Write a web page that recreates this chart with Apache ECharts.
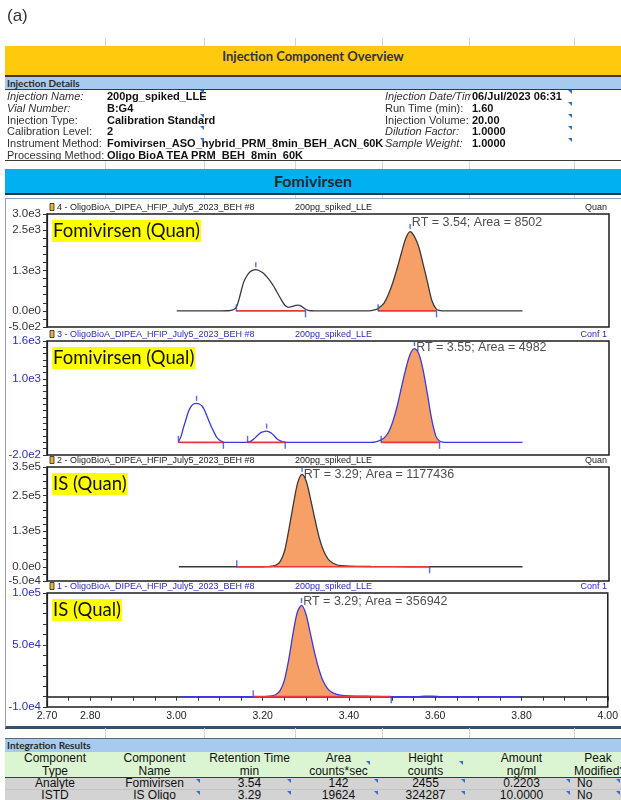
<!DOCTYPE html>
<html>
<head>
<meta charset="utf-8">
<script src="https://cdn.jsdelivr.net/npm/echarts@6/dist/echarts.min.js"></script>
<style>
  html, body { margin: 0; padding: 0; background: #fff; }
  body { width: 621px; height: 800px; overflow: hidden; position: relative; font-family: "Liberation Sans", Arial, sans-serif; }
  #chart { position: absolute; left: 0; top: 0; width: 621px; height: 800px; z-index: 2; }
  .abs { position: absolute; white-space: nowrap; }
  .top { z-index: 5; }
  .cal { font-family: Lato, "Open Sans", sans-serif; font-weight: bold; }
  .row { position: absolute; left: 5px; width: 616px; height: 11.75px; overflow: hidden; font-size: 11px; line-height: 12px; color: #333; }
  .row span { position: absolute; top: 0; white-space: nowrap; }
  .it { font-style: italic; }
  .b { font-weight: bold; color: #111; }
  .tri { position: absolute; width: 0; height: 0; border-top: 4px solid #2f6fd8; border-left: 4px solid transparent; z-index: 6; }
  .vline { position: absolute; width: 1px; background: #d4d4d4; z-index: 1; }
  .cell { position: absolute; overflow: hidden; text-align: center; font-size: 12px; color: #111; white-space: nowrap; }
</style>
</head>
<body>
<div class="abs top" style="left:7px;top:6px;font-size:17px;color:#333;">(a)</div>

<!-- report header -->
<div class="abs top" style="left:5px;top:46px;width:616px;height:29px;background:#FFC90E;border-bottom:2px solid #3a3a3a;"></div>
<div class="abs top cal" style="left:5px;top:48px;width:616px;text-align:center;font-size:13px;color:#333;">Injection Component Overview</div>
<div class="abs top" style="left:5px;top:77px;width:616px;height:12px;background:#A7CAEE;border-bottom:1.5px solid #3a3a3a;"></div>
<div class="abs top cal" style="left:7px;top:77px;font-size:10px;line-height:12px;color:#2a2a2a;">Injection Details</div>

<div class="row top" style="top:90px;"><span class="it" style="left:2px">Injection Name:</span><span class="b" style="left:102px">200pg_spiked_LLE</span><span class="it" style="left:380px;width:86px;overflow:hidden">Injection Date/Time:</span><span class="b" style="left:467px">06/Jul/2023 06:31</span></div>
<div class="row top" style="top:101.75px;"><span class="it" style="left:2px">Vial Number:</span><span class="b" style="left:102px">B:G4</span><span style="left:380px">Run Time (min):</span><span class="b" style="left:467px">1.60</span></div>
<div class="row top" style="top:113.5px;"><span style="left:2px">Injection Type:</span><span class="b" style="left:102px">Calibration Standard</span><span style="left:380px">Injection Volume:</span><span class="b" style="left:467px">20.00</span></div>
<div class="row top" style="top:125.25px;"><span style="left:2px">Calibration Level:</span><span class="b" style="left:102px">2</span><span class="it" style="left:380px">Dilution Factor:</span><span class="b" style="left:467px">1.0000</span></div>
<div class="row top" style="top:137px;"><span style="left:2px">Instrument Method:</span><span class="b" style="left:102px">Fomivirsen_ASO_hybrid_PRM_8min_BEH_ACN_60K</span><span class="it" style="left:380px">Sample Weight:</span><span class="b" style="left:467px">1.0000</span></div>
<div class="row top" style="top:148.75px;"><span style="left:2px">Processing Method:</span><span class="b" style="left:102px">Oligo BioA TEA PRM_BEH_8min_60K</span></div>
<div class="abs top" style="left:5px;top:160px;width:616px;height:0;border-bottom:1.5px solid #3a3a3a;"></div>

<div class="abs top" style="left:5px;top:169px;width:616px;height:24px;background:#00B0F0;border-bottom:2px solid #2a3440;"></div>
<div class="abs top cal" style="left:5px;top:171px;width:616px;text-align:center;font-size:16px;color:#1e2a36;">Fomivirsen</div>

<!-- chromatogram frame -->
<div class="abs" style="left:5px;top:198px;width:620px;height:527px;border:1px solid #8ea3bf;border-right:none;border-bottom:3px solid #34506f;z-index:1;background:#fff;"></div>

<!-- integration results -->
<div class="abs top" style="left:5px;top:738px;width:616px;height:13px;background:#A7CAEE;border-top:1px solid #5a6a7a;"></div>
<div class="abs top cal" style="left:7px;top:739px;font-size:10px;line-height:12px;color:#2a2a2a;">Integration Results</div>
<div class="abs top" style="left:5px;top:752px;width:616px;height:24.5px;background:#DBF5D3;border-bottom:1.5px solid #3a3a3a;"></div>
<div class="abs top" style="left:5px;top:778px;width:616px;height:22px;background:#D3D3D3;"></div>
<div class="abs top" style="left:5px;top:789px;width:616px;height:0;border-top:1px solid #c2c2c2;"></div>
<div id="results"></div>

<div id="chart"></div>

<script>
// ---------- axis ----------
const xTickLabels = ['2.70', '2.80', '3.00', '3.20', '3.40', '3.60', '3.80', '4.00'];

// ---------- chromatogram traces: [retention time (min), intensity] ----------
const fomiQuanTrace = [
  [3.00, 0], [3.05, 0], [3.10, 0], [3.12, 4], [3.13, 30], [3.138, 110], [3.145, 400], [3.154, 850],
  [3.162, 1080], [3.170, 1210], [3.177, 1262], [3.183, 1275], [3.190, 1250], [3.200, 1170], [3.208, 1060],
  [3.216, 930], [3.224, 770], [3.231, 600], [3.240, 390], [3.247, 235], [3.253, 140], [3.258, 110],
  [3.264, 122], [3.270, 150], [3.276, 172], [3.281, 178], [3.287, 155], [3.293, 100], [3.298, 50],
  [3.304, 18], [3.31, 4], [3.32, 0], [3.40, 0], [3.44, 0], [3.45, 10], [3.46, 40], [3.466, 75],
  [3.48, 250], [3.49, 520], [3.50, 880], [3.51, 1320], [3.52, 1800], [3.53, 2250], [3.54, 2455],
  [3.55, 2300], [3.56, 1980], [3.57, 1450], [3.58, 900], [3.59, 330], [3.601, 45], [3.61, 8],
  [3.62, 0], [3.70, 0], [3.80, 0]
];
const fomiQualTrace = [
  [3.004, 10], [3.010, 90], [3.015, 218], [3.021, 350], [3.027, 483], [3.033, 565], [3.039, 605],
  [3.046, 616], [3.052, 605], [3.058, 578], [3.064, 515], [3.069, 430], [3.075, 330], [3.081, 234],
  [3.087, 150], [3.092, 85], [3.098, 40], [3.104, 14], [3.108, 5], [3.115, 0], [3.16, 0], [3.164, 2],
  [3.172, 20], [3.179, 55], [3.185, 95], [3.191, 135], [3.197, 160], [3.203, 174], [3.208, 178],
  [3.214, 166], [3.220, 140], [3.226, 100], [3.231, 62], [3.237, 32], [3.243, 14], [3.251, 3],
  [3.26, 0], [3.40, 0], [3.45, 0], [3.46, 8], [3.473, 40], [3.48, 70], [3.49, 160], [3.50, 330],
  [3.51, 570], [3.52, 870], [3.53, 1160], [3.54, 1390], [3.55, 1480], [3.56, 1400], [3.57, 1140],
  [3.58, 760], [3.59, 360], [3.60, 90], [3.608, 20], [3.615, 4], [3.625, 0], [3.70, 0], [3.80, 0]
];
const isQuanTrace = [
  [3.005, 0], [3.139, 0], [3.20, 0], [3.21, 400], [3.22, 1800], [3.23, 6000], [3.24, 20000],
  [3.25, 58000], [3.26, 135000], [3.27, 220000], [3.28, 295000], [3.29, 324287], [3.30, 298000],
  [3.31, 235000], [3.32, 165000], [3.33, 100000], [3.34, 55000], [3.35, 28000], [3.36, 14000],
  [3.37, 7000], [3.38, 4000], [3.40, 2000], [3.45, 800], [3.50, 250], [3.585, 0], [3.80, 0]
];
const isQualTrace = [
  [3.01, 0], [3.178, 0], [3.20, 100], [3.21, 300], [3.22, 700], [3.23, 1800], [3.24, 5500],
  [3.25, 15500], [3.26, 35000], [3.27, 60000], [3.28, 81000], [3.29, 88000], [3.30, 80000],
  [3.31, 62000], [3.32, 43000], [3.33, 27000], [3.34, 15000], [3.35, 8000], [3.36, 4200],
  [3.37, 2400], [3.38, 1500], [3.40, 800], [3.45, 300], [3.498, 0], [3.56, 0], [3.575, 500],
  [3.595, 450], [3.615, 0], [3.80, 0]
];

// integration windows [start, end]; the last one of each trace is the reported peak
const fomiQuanWindows = [[3.138, 3.298], [3.466, 3.601]];
const fomiQualWindows = [[3.004, 3.108], [3.164, 3.251], [3.473, 3.608]];
const isQuanWindows = [[3.139, 3.585]];
const isQualWindows = [[3.178, 3.498]];

// detected apexes; the last one of each trace is the reported peak
const fomiQuanApex = [[3.183, 1275], [3.54, 2455]];
const fomiQualApex = [[3.046, 616], [3.208, 178], [3.55, 1480]];
const isQuanApex = [[3.29, 324287]];
const isQualApex = [[3.29, 88000]];

const peakAreas = [8502, 4982, 1177436, 356942];

// y axes
const yMins = [-500, -200, -50000, -10000];
const yMaxs = [3000, 1600, 350000, 100000];
const yTickSteps = [250, 100, 25000, 10000];
const yLabelValues = [[-500, 0, 1250, 2500, 3000], [-200, 1000, 1600], [-50000, 0, 125000, 250000, 350000], [-10000, 50000, 100000]];
const yLabelTexts = [['-5.0e2', '0.0e0', '1.3e3', '2.5e3', '3.0e3'], ['-2.0e2', '1.0e3', '1.6e3'], ['-5.0e4', '0.0e0', '1.3e5', '2.5e5', '3.5e5'], ['-1.0e4', '5.0e4', '1.0e5']];

// panel texts
const panelTitles = ['Fomivirsen (Quan)', 'Fomivirsen (Qual)', 'IS (Quan)', 'IS (Qual)'];
const panelHeaders = ['4 - OligoBioA_DIPEA_HFIP_July5_2023_BEH #8', '3 - OligoBioA_DIPEA_HFIP_July5_2023_BEH #8', '2 - OligoBioA_DIPEA_HFIP_July5_2023_BEH #8', '1 - OligoBioA_DIPEA_HFIP_July5_2023_BEH #8'];
const sampleName = '200pg_spiked_LLE';
const panelModes = ['Quan', 'Conf 1', 'Quan', 'Conf 1'];

// ---------- integration results table ----------
const resultHeaders = [['Component', 'Type'], ['Component', 'Name'], ['Retention Time', 'min'], ['Area', 'counts*sec'], ['Height', 'counts'], ['Amount', 'ng/ml'], ['Peak', 'Modified?']];
const resultRows = [
  ['Analyte', 'Fomivirsen', '3.54', '142', '2455', '0.2203', 'No'],
  ['ISTD', 'IS Oligo', '3.29', '19624', '324287', '10.0000', 'No']
];
const colEdges = [5, 105, 204, 295, 382, 469, 574, 622];

(function buildSheet() {
  const host = document.getElementById('results');
  const add = (html) => host.insertAdjacentHTML('beforeend', html);
  resultHeaders.forEach((h, c) => {
    const l = colEdges[c], w = colEdges[c + 1] - l;
    add(`<div class="cell top" style="left:${l}px;top:752px;width:${w}px;height:24.5px;line-height:13px;">${h[0]}<br>${h[1]}</div>`);
  });
  resultRows.forEach((r, k) => {
    const top = 777 + k * 11.6;
    r.forEach((v, c) => {
      const l = colEdges[c], w = colEdges[c + 1] - l;
      const align = c === 6 ? 'text-align:left;padding-left:3px;' : '';
      add(`<div class="cell top" style="left:${l}px;top:${top}px;width:${w}px;height:11.6px;line-height:13px;${align}">${v}</div>`);
      if (c >= 1 && c <= 5) add(`<div class="tri" style="left:${colEdges[c + 1] - 8}px;top:${top + 2}px;"></div>`);
    });
    add(`<div class="tri" style="left:${colEdges[7] - 6}px;top:${top + 2}px;"></div>`);
  });
  add(`<div class="tri" style="left:366px;top:761px;"></div>`);
  add(`<div class="tri" style="left:459px;top:761px;"></div>`);
  // comment markers in the details block
  [[200, 90], [200, 114], [200, 126], [200, 138], [568, 90], [568, 102], [568, 114], [568, 126], [568, 138]]
    .forEach(p => add(`<div class="tri" style="left:${p[0]}px;top:${p[1]}px;"></div>`));
  // faint sheet grid in the spacer rows
  const gx = [105, 204, 295, 382, 469, 574];
  [[38, 46], [161, 169], [194, 198], [728, 738]].forEach(([a, b]) => {
    gx.forEach(x => add(`<div class="vline" style="left:${x}px;top:${a}px;height:${b - a}px;"></div>`));
  });
})();

// ---------- chart ----------
const gridTops = [214, 341, 467, 593];
const gridHeights = [113, 114, 114, 114];
const traceColors = ['#3a3a3a', '#3a3ae0', '#3a3a3a', '#3a3ae0'];
const labelColors = ['#333', '#2b2bc8', '#333', '#2b2bc8'];
const rtLabelDy = [-4, 4, 5, 1];

const traces = [fomiQuanTrace, fomiQualTrace, isQuanTrace, isQualTrace];
const windows = [fomiQuanWindows, fomiQualWindows, isQuanWindows, isQualWindows];
const apexes = [fomiQuanApex, fomiQualApex, isQuanApex, isQualApex];

const grid = [], xAxis = [], yAxis = [], series = [], graphic = [];
const tickBlue = '#3344dd';

traces.forEach((trace, i) => {
  const last = i === traces.length - 1;
  grid.push({ left: 47, right: 12, top: gridTops[i], height: gridHeights[i], show: true,
    borderColor: '#1e1e1e', borderWidth: 1.5, backgroundColor: '#fff' });
  xAxis.push({
    gridIndex: i, type: 'value', min: 2.7, max: 4.0, interval: 0.05,
    axisLine: { show: last, lineStyle: { color: '#1e1e1e', width: 1.5 } },
    axisTick: { show: last, length: 4, lineStyle: { color: '#333' } },
    axisLabel: {
      show: last, fontSize: 10.5, color: '#222', margin: 4, fontFamily: 'Liberation Sans',
      formatter: v => { const s = v.toFixed(2); return xTickLabels.includes(s) ? s : ''; }
    },
    splitLine: { show: false }
  });
  yAxis.push({
    gridIndex: i, type: 'value', min: yMins[i], max: yMaxs[i], interval: yTickSteps[i],
    axisLine: { show: true, lineStyle: { color: '#1e1e1e', width: 1.2 } },
    axisTick: { show: true, length: 4, lineStyle: { color: '#333' } },
    axisLabel: {
      fontSize: 11.5, color: labelColors[i], margin: 6, fontFamily: 'Liberation Sans',
      formatter: v => {
        const k = yLabelValues[i].findIndex(x => Math.abs(x - v) < yTickSteps[i] * 0.01);
        return k >= 0 ? yLabelTexts[i][k] : '';
      }
    },
    splitLine: { show: false }
  });

  const wins = windows[i];
  const main = wins[wins.length - 1];
  const fillPts = trace.filter(d => d[0] >= main[0] - 1e-9 && d[0] <= main[1] + 1e-9);
  const ax = { xAxisIndex: i, yAxisIndex: i };

  series.push(Object.assign({ type: 'line', data: fillPts, smooth: 0.3, showSymbol: false, silent: true,
    lineStyle: { width: 0 }, areaStyle: { color: '#F6A067', opacity: 1 }, z: 1 }, ax));
  series.push(Object.assign({ type: 'line', data: trace, smooth: 0.3, showSymbol: false, silent: true,
    lineStyle: { color: traceColors[i], width: 1.3 }, z: 3 }, ax));
  wins.forEach(w => series.push(Object.assign({ type: 'line', data: [[w[0], 0], [w[1], 0]], showSymbol: false, silent: true,
    lineStyle: { color: '#E8383D', width: 1.6 }, z: 4 }, ax)));
  series.push(Object.assign({ type: 'scatter', data: wins.map(w => [w[0], 0]), symbol: 'rect', symbolSize: [1.4, 7],
    symbolOffset: [0, -3], itemStyle: { color: tickBlue }, silent: true, z: 5 }, ax));
  series.push(Object.assign({ type: 'scatter', data: wins.map(w => [w[1], 0]), symbol: 'rect', symbolSize: [1.4, 7],
    symbolOffset: [0, 3], itemStyle: { color: tickBlue }, silent: true, z: 5 }, ax));

  const ap = apexes[i];
  series.push(Object.assign({
    type: 'scatter', symbol: 'rect', symbolSize: [1.4, 5], symbolOffset: [0, -5],
    itemStyle: { color: tickBlue }, silent: true, z: 6,
    data: ap.map((p, k) => {
      const item = { value: p };
      if (k === ap.length - 1) {
        item.label = {
          show: true, position: 'right', distance: 1, offset: [0, rtLabelDy[i]],
          formatter: `RT = ${p[0].toFixed(2)}; Area = ${peakAreas[i]}`,
          fontSize: 12.5, color: '#222', fontFamily: 'Liberation Sans'
        };
      }
      return item;
    })
  }, ax));

  // panel header line and title tag
  const hy = gridTops[i] - 6.5;
  const hColor = i % 2 === 0 ? '#222' : '#2b2bc8';
  graphic.push({ type: 'rect', shape: { x: 50, y: hy - 4, width: 4, height: 7 },
    style: { fill: '#E7B43A', stroke: '#222', lineWidth: 0.8 }, z: 10 });
  graphic.push({ type: 'text', x: 57, y: hy, z: 10,
    style: { text: panelHeaders[i], font: '9px "Liberation Sans"', fill: hColor, verticalAlign: 'middle' } });
  graphic.push({ type: 'text', x: 295, y: hy, z: 10,
    style: { text: sampleName, font: '9px "Liberation Sans"', fill: hColor, verticalAlign: 'middle' } });
  graphic.push({ type: 'text', x: 607, y: hy, z: 10,
    style: { text: panelModes[i], font: '9px "Liberation Sans"', fill: hColor, verticalAlign: 'middle', align: 'right' } });
  graphic.push({ type: 'text', x: 52, y: gridTops[i] + 6, z: 10,
    style: { text: panelTitles[i], font: '18.5px Lato', fill: '#111', backgroundColor: '#FFFF00',
      padding: [1, 1, 0, 1], verticalAlign: 'top', lineHeight: 21 } });
});

const chart = echarts.init(document.getElementById('chart'), null, { renderer: 'canvas' });
chart.setOption({
  backgroundColor: 'transparent',
  animation: false,
  grid, xAxis, yAxis, series, graphic
});
</script>
</body>
</html>
